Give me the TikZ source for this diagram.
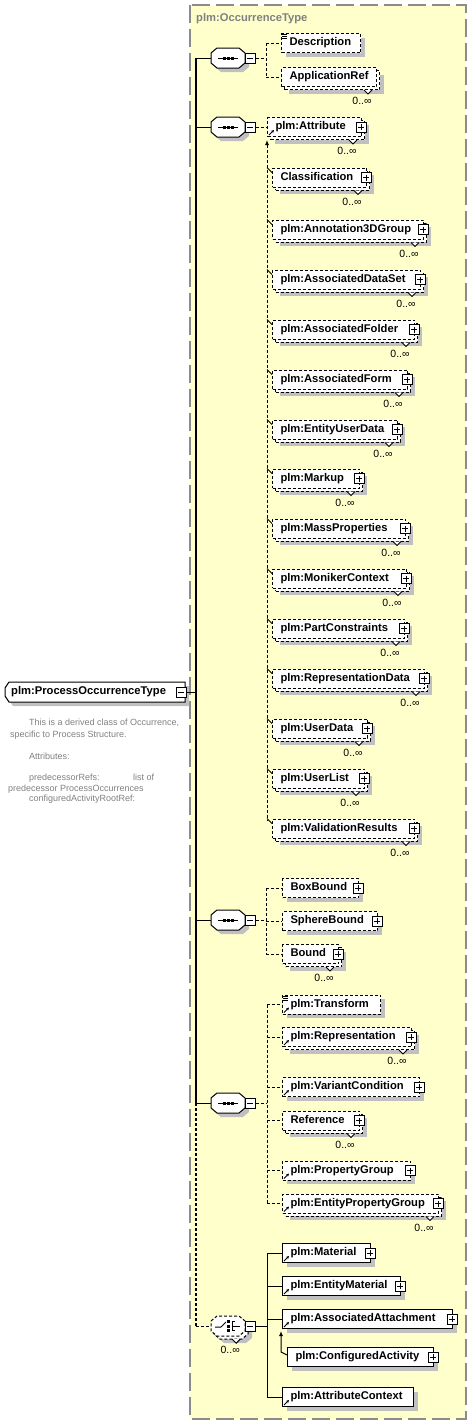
\documentclass[tikz,border=0pt]{standalone}
\usepackage{fontspec}
\setmainfont{Liberation Sans}
\usetikzlibrary{shadows,calc,arrows.meta}
\hyphenpenalty=10000
\exhyphenpenalty=10000
\definecolor{bgyellow}{RGB}{255,255,204}
\definecolor{framegray}{RGB}{140,140,140}
\definecolor{shadowgray}{RGB}{192,192,192}
\definecolor{docgray}{RGB}{128,128,128}
\newcommand\elfont{\fontsize{11.2}{13}\selectfont\bfseries}
\newcommand\plusb[1]{\node[pbox] (#1-p) at ([xshift=-1pt]#1.east) {};}
\newcommand\notch[1]{\draw[line width=1pt,fill=white] ($(#1.south east)+(-13,3)$) -- ($(#1.south east)+(-9,7)$) -- ($(#1.south east)+(-5,3)$);}
\newcommand\mlabel[1]{\node[mlab] (#1-l) at ($(#1.south east)+(-15,14)$) {0..∞};}
\newcommand\refarrow[1]{\draw[line width=1pt,-{Stealth[length=3pt,width=3pt]}] ($(#1.south west)+(2,-2)$) -- ($(#1.south west)+(7,-7)$);}
\newcommand\docicon[1]{\draw[line width=0.7pt] ($(#1.north west)+(1,1.5)$) -- +(5,0) ($(#1.north west)+(1,3.5)$) -- +(5,0) ($(#1.north west)+(1,5.5)$) -- +(5,0);}
\newcommand\subm[4]{\node[elem,dsh,multi,bw=#4] (#1) at (272,#2) {#3};\plusb{#1}\notch{#1}\mlabel{#1}\draw[line width=0.8pt] (#1.north west -| subtop) -- ($(#1.north west)+(0,5)$);}
\newcommand\octpath[2]{(#1-17,#2-5) -- (#1-11,#2-10) -- (#1+11,#2-10) -- (#1+17,#2-5) -- (#1+17,#2+5) -- (#1+11,#2+10) -- (#1-11,#2+10) -- (#1-17,#2+5) -- cycle}
\newcommand\seqshape[2]{%
  \fill[shadowgray,shift={(4,4)}] \octpath{#1}{#2};
  \draw[line width=1pt,fill=white] \octpath{#1}{#2};
  \draw[line width=1pt] (#1-10,#2) -- (#1+10,#2);
  \foreach \dx in {-5.5,-1.5,2.5} \fill (#1+\dx,#2-1.5) rectangle +(3,3);}
\newcommand\choshape[2]{%
  \fill[shadowgray,shift={(7,7)}] \octpath{#1}{#2};
  \draw[line width=1pt,fill=white,dsh,shift={(3,3)}] \octpath{#1}{#2};
  \draw[line width=1pt,fill=white,dsh] \octpath{#1}{#2};
  \draw[line width=1pt] (#1-13,#2+1) -- (#1-7,#2+1) -- (#1-2,#2-4);
  \foreach \dy in {-6,-1.5,3} \fill (#1-1,#2+\dy) rectangle +(3,3);
  \draw[line width=1pt] (#1+7,#2-4.5) -- (#1+4,#2-4.5) -- (#1+4,#2+4.5) -- (#1+7,#2+4.5) (#1+4,#2) -- (#1+12,#2);}
\newcommand\rootpath{(5,688) -- (9,682) -- (185,682) -- (185,702) -- (9,702) -- (5,696) -- cycle}
\tikzset{
  conn/.style={line width=1pt},
  trunk/.style={line width=1.3pt},
  dsh/.style={dash pattern=on 3pt off 2pt},
  elem/.style={draw=black, fill=white, line width=1pt, anchor=west, minimum height=19pt, inner xsep=8pt, inner ysep=0pt, align=left, font=\elfont, text height=8pt, text depth=2.5pt},
  bw/.code={\pgfmathsetmacro\tw{#1-16}\edef\tmp{\noexpand\tikzset{minimum width=#1pt, text width=\tw pt}}\tmp},
  shad/.style={general shadow={fill=shadowgray, shadow xshift=4pt, shadow yshift=-4pt}},
  multi/.style={general shadow={fill=shadowgray, shadow xshift=7pt, shadow yshift=-7pt}, general shadow={fill=white, draw=black, line width=1pt, dash pattern=on 3pt off 2pt, shadow xshift=3pt, shadow yshift=-3pt}},
  mbox/.style={draw=black, fill=white, solid, line width=1pt, minimum size=10pt, inner sep=0pt, path picture={\draw[line width=1pt] ([xshift=2pt]path picture bounding box.west) -- ([xshift=-2pt]path picture bounding box.east);}},
  pbox/.style={mbox, path picture={\draw[line width=1pt] ([xshift=2pt]path picture bounding box.west) -- ([xshift=-2pt]path picture bounding box.east); \draw[line width=1pt] ([yshift=-2pt]path picture bounding box.north) -- ([yshift=2pt]path picture bounding box.south);}},
  grp/.style={draw=none, minimum width=34pt, minimum height=20pt, inner sep=0pt},
  mlab/.style={inner sep=0pt, font=\fontsize{10.5}{11}\selectfont},
  doc/.style={anchor=west, inner sep=0pt, font=\fontsize{9}{10}\selectfont, text=docgray, text height=6.5pt, text depth=2pt},
}
\begin{document}
\begin{tikzpicture}[x=1pt,y=-1pt]
\useasboundingbox (0,0) rectangle (472,1425);
\draw[draw=framegray, fill=bgyellow, line width=1.5pt, dash pattern=on 18pt off 6pt] (190,5) rectangle (466,1419);
\node[anchor=west, inner sep=0pt, font=\elfont, text=docgray] (title) at (196,19) {plm:OccurrenceType};

% root
\fill[shadowgray,shift={(4,4)}] \rootpath;
\draw[line width=1pt,fill=white] \rootpath;
\node[anchor=west, inner xsep=6pt, inner ysep=0pt, font=\elfont, text height=8pt, text depth=2.5pt] (root) at (5,692) {plm:ProcessOccurrenceType};
\node[mbox] (rootm) at (181,692) {};
\node[doc] (d1) at (29,723) {This is a derived class of Occurrence,};
\node[doc] (d2) at (10,735) {specific to Process Structure.};
\node[doc] (d3) at (29,757) {Attributes:};
\node[doc] (d4) at (29,778) {predecessorRefs:};
\node[doc] (d5) at (133,778) {list of};
\node[doc] (d6) at (8,789) {predecessor ProcessOccurrences};
\node[doc] (d7) at (29,799) {configuredActivityRootRef:};

% trunk
\coordinate (tr0) at (196,692);
\coordinate (tr1) at (196,58);
\coordinate (tr4) at (196,1103);
\coordinate (tr5) at (196,1326);
\draw[conn] (rootm.east) -- (tr0);
\draw[trunk] (tr1) -- (tr4);
\draw[trunk,dsh] (tr4) -- (tr5);

% sequence 1
\seqshape{228}{58}
\node[grp] (seq1) at (228,58) {};
\node[mbox] (seq1m) at ([xshift=5pt]seq1.east) {};
\draw[conn] (tr1) -- (seq1.west);
\node[elem,dsh,shad,bw=79] (desc) at (281,43) {Description};
\docicon{desc}
\node[elem,dsh,multi,bw=95] (appref) at (281,77) {ApplicationRef};
\notch{appref}\mlabel{appref}
\coordinate (b1) at (266,58);
\draw[conn,dsh] (seq1m.east) -- (b1);
\draw[conn,dsh] (desc.west -| b1) -- (appref.west -| b1);
\draw[conn,dsh] (desc.west -| b1) -- (desc.west);
\draw[conn,dsh] (appref.west -| b1) -- (appref.west);

% sequence 2
\seqshape{228}{127}
\node[grp] (seq2) at (228,127) {};
\node[mbox] (seq2m) at ([xshift=5pt]seq2.east) {};
\draw[conn] (seq2.west -| tr1) -- (seq2.west);
\node[elem,dsh,multi,bw=94] (attr) at (267,127) {plm:Attribute};
\plusb{attr}\notch{attr}\mlabel{attr}\refarrow{attr}
\draw[conn,dsh] (seq2m.east) -- (attr.west);
\coordinate (subtop) at (267,140);
\coordinate (subbot) at (267,820);
\draw[conn,dsh,{Latex[length=5pt,width=4pt]}-] (subtop) -- (subbot);
\subm{cls}{177.5}{Classification}{94}
\subm{a3d}{229.5}{plm:Annotation3DGroup}{151}
\subm{ads}{279.5}{plm:AssociatedDataSet}{148}
\subm{afo}{329.5}{plm:AssociatedFolder}{142}
\subm{afm}{379.5}{plm:AssociatedForm}{135}
\subm{eud}{429.5}{plm:EntityUserData}{125}
\subm{mku}{478.5}{plm:Markup}{87}
\subm{mas}{528.5}{plm:MassProperties}{133}
\subm{mon}{578.5}{plm:MonikerContext}{134}
\subm{pcs}{628.5}{plm:PartConstraints}{132}
\subm{rpd}{678.5}{plm:RepresentationData}{152}
\subm{usd}{728.5}{plm:UserData}{95}
\subm{usl}{778.5}{plm:UserList}{92}
\subm{vrs}{828.5}{plm:ValidationResults}{142}

% sequence 3
\seqshape{228}{920}
\node[grp] (seq3) at (228,920) {};
\node[mbox] (seq3m) at ([xshift=5pt]seq3.east) {};
\draw[conn] (seq3.west -| tr1) -- (seq3.west);
\node[elem,dsh,shad,bw=76] (bbd) at (282,888) {BoxBound};\plusb{bbd}
\node[elem,dsh,shad,bw=95] (sbd) at (282,921) {SphereBound};\plusb{sbd}
\node[elem,dsh,multi,bw=56] (bnd) at (282,954) {Bound};\plusb{bnd}\notch{bnd}\mlabel{bnd}
\coordinate (b3) at (266,920);
\draw[conn,dsh] (seq3m.east) -- (b3);
\draw[conn,dsh] (bbd.west -| b3) -- (bnd.west -| b3);
\foreach \n in {bbd,sbd,bnd} \draw[conn,dsh] (\n.west -| b3) -- (\n.west);

% sequence 4
\seqshape{228}{1103}
\node[grp] (seq4) at (228,1103) {};
\node[mbox] (seq4m) at ([xshift=5pt]seq4.east) {};
\draw[conn] (seq4.west -| tr1) -- (seq4.west);
\node[elem,dsh,shad,bw=98] (tfm) at (282,1004.5) {plm:Transform};\docicon{tfm}\refarrow{tfm}
\node[elem,dsh,multi,bw=129] (rep) at (282,1037) {plm:Representation};\plusb{rep}\notch{rep}\mlabel{rep}\refarrow{rep}
\node[elem,dsh,shad,bw=137] (vcd) at (282,1087) {plm:VariantCondition};\plusb{vcd}\refarrow{vcd}
\node[elem,dsh,multi,bw=77] (rfc) at (282,1120.5) {Reference};\plusb{rfc}\notch{rfc}\mlabel{rfc}
\node[elem,dsh,shad,bw=128] (pgp) at (282,1170.5) {plm:PropertyGroup};\plusb{pgp}\refarrow{pgp}
\node[elem,dsh,multi,bw=156] (epg) at (282,1203.5) {plm:EntityPropertyGroup};\plusb{epg}\notch{epg}\mlabel{epg}\refarrow{epg}
\coordinate (b4) at (267,1103);
\draw[conn,dsh] (seq4m.east) -- (b4);
\draw[conn,dsh] (tfm.west -| b4) -- (epg.west -| b4);
\foreach \n in {tfm,rep,vcd,rfc,pgp,epg} \draw[conn,dsh] (\n.west -| b4) -- (\n.west);

% choice
\choshape{228}{1326}
\node[grp] (cho) at (228,1326) {};
\notch{cho}\mlabel{cho}
\node[mbox] (chom) at ([xshift=5pt]cho.east) {};
\draw[conn,dsh] (tr5) -- (cho.west);
\node[elem,shad,bw=88] (mat) at (282,1253) {plm:Material};\plusb{mat}\refarrow{mat}
\node[elem,shad,bw=118] (emt) at (282,1286) {plm:EntityMaterial};\plusb{emt}\refarrow{emt}
\node[elem,shad,bw=170] (aat) at (282,1319) {plm:AssociatedAttachment};\plusb{aat}\refarrow{aat}
\node[elem,shad,bw=146] (cfa) at (287,1357) {plm:ConfiguredActivity};\plusb{cfa}
\node[elem,shad,bw=131] (atc) at (282,1397) {plm:AttributeContext};\refarrow{atc}
\coordinate (b5) at (267,1326);
\draw[conn] (chom.east) -- (b5);
\draw[conn] (mat.west -| b5) -- (atc.west -| b5);
\foreach \n in {mat,emt,aat,atc} \draw[conn] (\n.west -| b5) -- (\n.west);
\coordinate (s2top) at (281,1331);
\coordinate (s2bot) at (281,1352);
\draw[conn,{Latex[length=5pt,width=4pt]}-] (s2top) -- (s2bot) -- ($(cfa.north west)+(0,8)$);
\end{tikzpicture}
\end{document}
